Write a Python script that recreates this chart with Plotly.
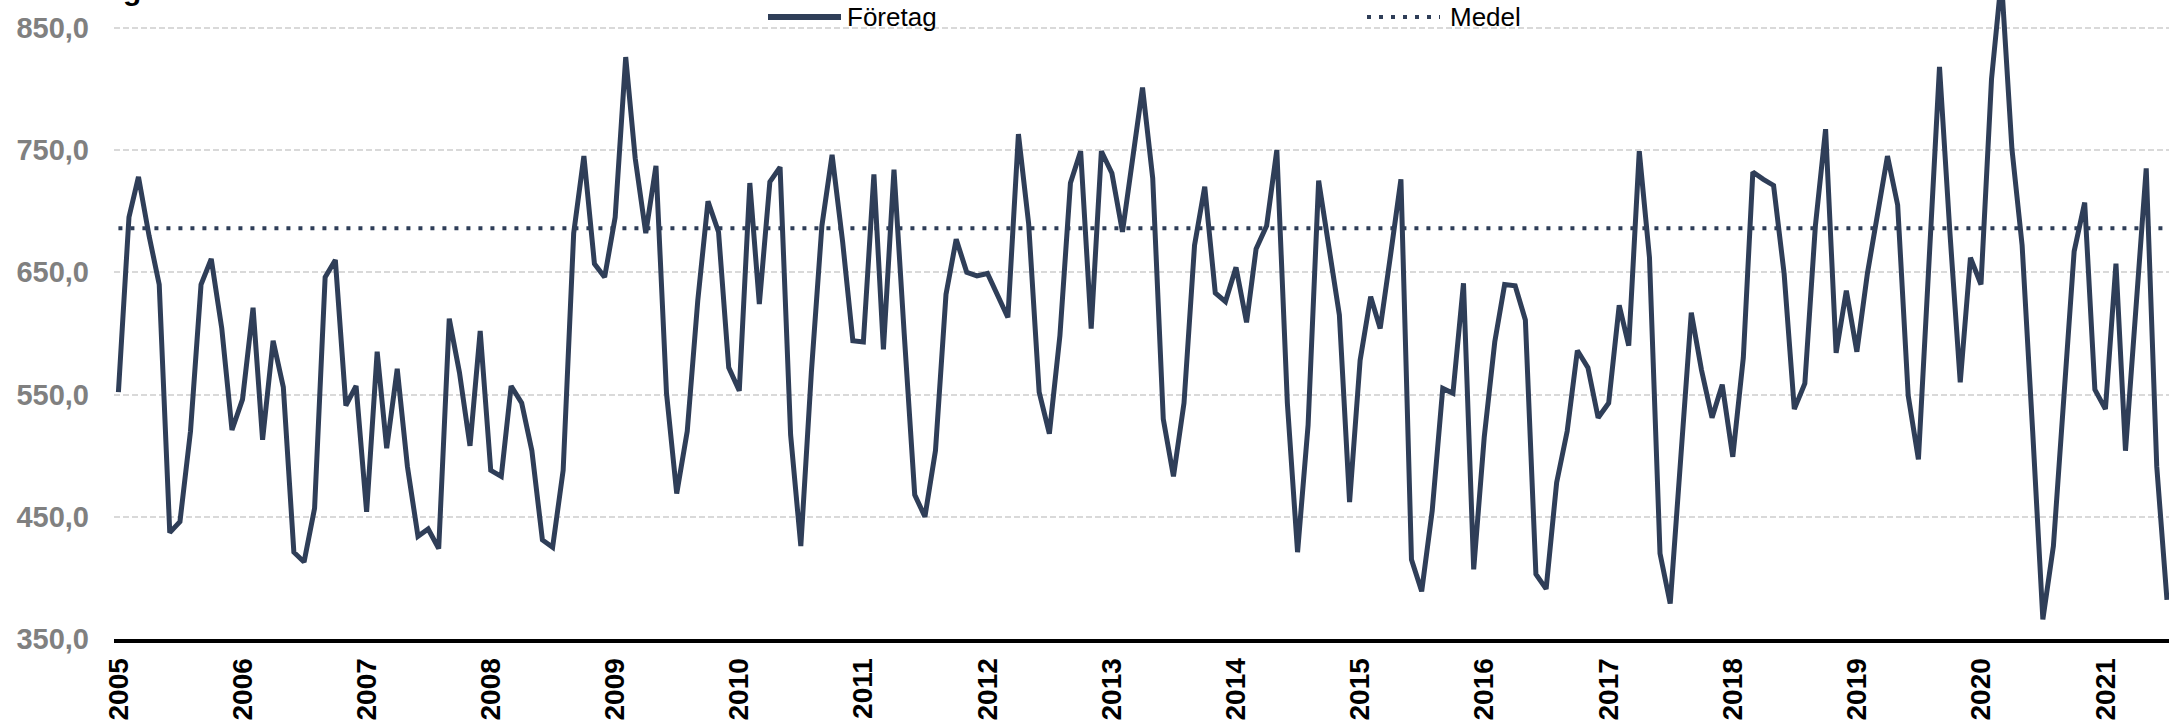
import pandas as pd
import plotly.graph_objects as go

# Monthly series, Jan 2005 - Jul 2021
foretag_2005 = [552, 695, 728, 680, 640, 437, 446, 520, 640, 661, 604, 521]
foretag_2006 = [546, 621, 513, 594, 556, 421, 413, 457, 646, 660, 541, 557]
foretag_2007 = [454, 585, 506, 571, 491, 434, 440, 424, 612, 568, 508, 602]
foretag_2008 = [488, 483, 557, 543, 504, 431, 425, 488, 682, 745, 657, 646]
foretag_2009 = [695, 826, 743, 682, 737, 551, 469, 520, 627, 708, 683, 572]
foretag_2010 = [553, 723, 624, 724, 736, 517, 426, 568, 688, 746, 675, 594]
foretag_2011 = [593, 730, 587, 734, 600, 468, 450, 504, 632, 677, 650, 647]
foretag_2012 = [649, 630, 613, 763, 690, 552, 518, 598, 723, 749, 604, 749]
foretag_2013 = [731, 683, 742, 801, 727, 530, 483, 543, 672, 720, 633, 626]
foretag_2014 = [654, 609, 669, 688, 750, 543, 421, 525, 725, 670, 615, 462]
foretag_2015 = [578, 630, 604, 665, 726, 415, 389, 455, 555, 551, 641, 407]
foretag_2016 = [515, 593, 640, 639, 611, 403, 391, 478, 520, 586, 572, 531]
foretag_2017 = [543, 623, 590, 749, 662, 420, 379, 498, 617, 570, 531, 558]
foretag_2018 = [499, 580, 732, 726, 721, 649, 538, 559, 688, 767, 584, 635]
foretag_2019 = [585, 649, 695, 745, 705, 549, 497, 657, 818, 685, 560, 662]
foretag_2020 = [640, 808, 890, 751, 672, 520, 366, 426, 546, 667, 707, 554]
foretag_2021 = [538, 657, 504, 620, 735, 491, 382]

medel = 686.0

foretag = (foretag_2005 + foretag_2006 + foretag_2007 + foretag_2008 + foretag_2009
           + foretag_2010 + foretag_2011 + foretag_2012 + foretag_2013 + foretag_2014
           + foretag_2015 + foretag_2016 + foretag_2017 + foretag_2018 + foretag_2019
           + foretag_2020 + foretag_2021)
months = pd.date_range("2005-01-01", periods=len(foretag), freq="MS")
medel_line = [medel] * len(months)

y_ticks = [350, 450, 550, 650, 750, 850]

W, H = 2169, 724
L, B = 114, 85
PW, PH = W - L, H - B
NAVY = "#2f3e58"
FONT = "Liberation Sans, Arial, sans-serif"


def px(x):
    return (x - L) / PW


def py(y):
    return (PH - y) / PH


fig = go.Figure()
fig.add_trace(go.Scatter(x=months, y=foretag, mode="lines", name="Företag",
                         line=dict(color=NAVY, width=5), showlegend=False))
fig.add_trace(go.Scatter(x=months, y=medel_line, mode="lines", name="Medel",
                         line=dict(color=NAVY, width=4, dash="4px,8px"), showlegend=False))

# --- legend drawn by hand so the swatches get the long look of the original ---
fig.add_shape(type="line", xref="paper", yref="paper", x0=px(768), x1=px(841),
              y0=py(17), y1=py(17), line=dict(color=NAVY, width=6))
fig.add_shape(type="line", xref="paper", yref="paper", x0=px(1367), x1=px(1440),
              y0=py(17), y1=py(17), line=dict(color=NAVY, width=4, dash="4px,8px"))
for txt, x0 in [("Företag", 845), ("Medel", 1448)]:
    fig.add_annotation(text=txt, xref="paper", yref="paper", x=px(x0), y=py(17),
                       xanchor="left", yanchor="middle", showarrow=False,
                       font=dict(family=FONT, size=26, color="black"))

# cut-off title fragment at top left (only the descender shows, as in the original)
fig.add_annotation(text="<b>g</b>", xref="paper", yref="paper", x=px(132), y=1.0,
                   xanchor="center", yanchor="bottom", yshift=-8, showarrow=False,
                   font=dict(family=FONT, size=30, color="black"))

fig.update_layout(
    width=W, height=H,
    margin=dict(l=L, r=0, t=0, b=B, pad=0),
    paper_bgcolor="white", plot_bgcolor="white",
    separators=", ",
    font=dict(family=FONT),
    showlegend=False,
)
fig.update_xaxes(
    range=["2004-12-19", "2021-07-07"],
    tick0="2005-01-01", dtick="M12", tickformat="%Y",
    tickangle=-90, ticks="", ticklabelstandoff=4, automargin=False,
    tickfont=dict(family=FONT, size=28, color="black", weight="bold"),
    showgrid=False, zeroline=False,
    showline=True, linecolor="black", linewidth=4,
)
fig.update_yaxes(
    range=[350, 872.7],
    tickvals=y_ticks, tickformat=".1f",
    ticks="", ticklabelstandoff=24, automargin=False,
    tickfont=dict(family=FONT, size=29, color="#808080", weight="bold"),
    showgrid=True, gridcolor="#d9d9d9", gridwidth=1.5, griddash="6px,3px",
    zeroline=False, showline=False,
)

# the page's default body margin would push the chart 8px down and right
fig.write_html("out.html", config={"displayModeBar": False},
               post_script="document.body.style.margin='0';")
